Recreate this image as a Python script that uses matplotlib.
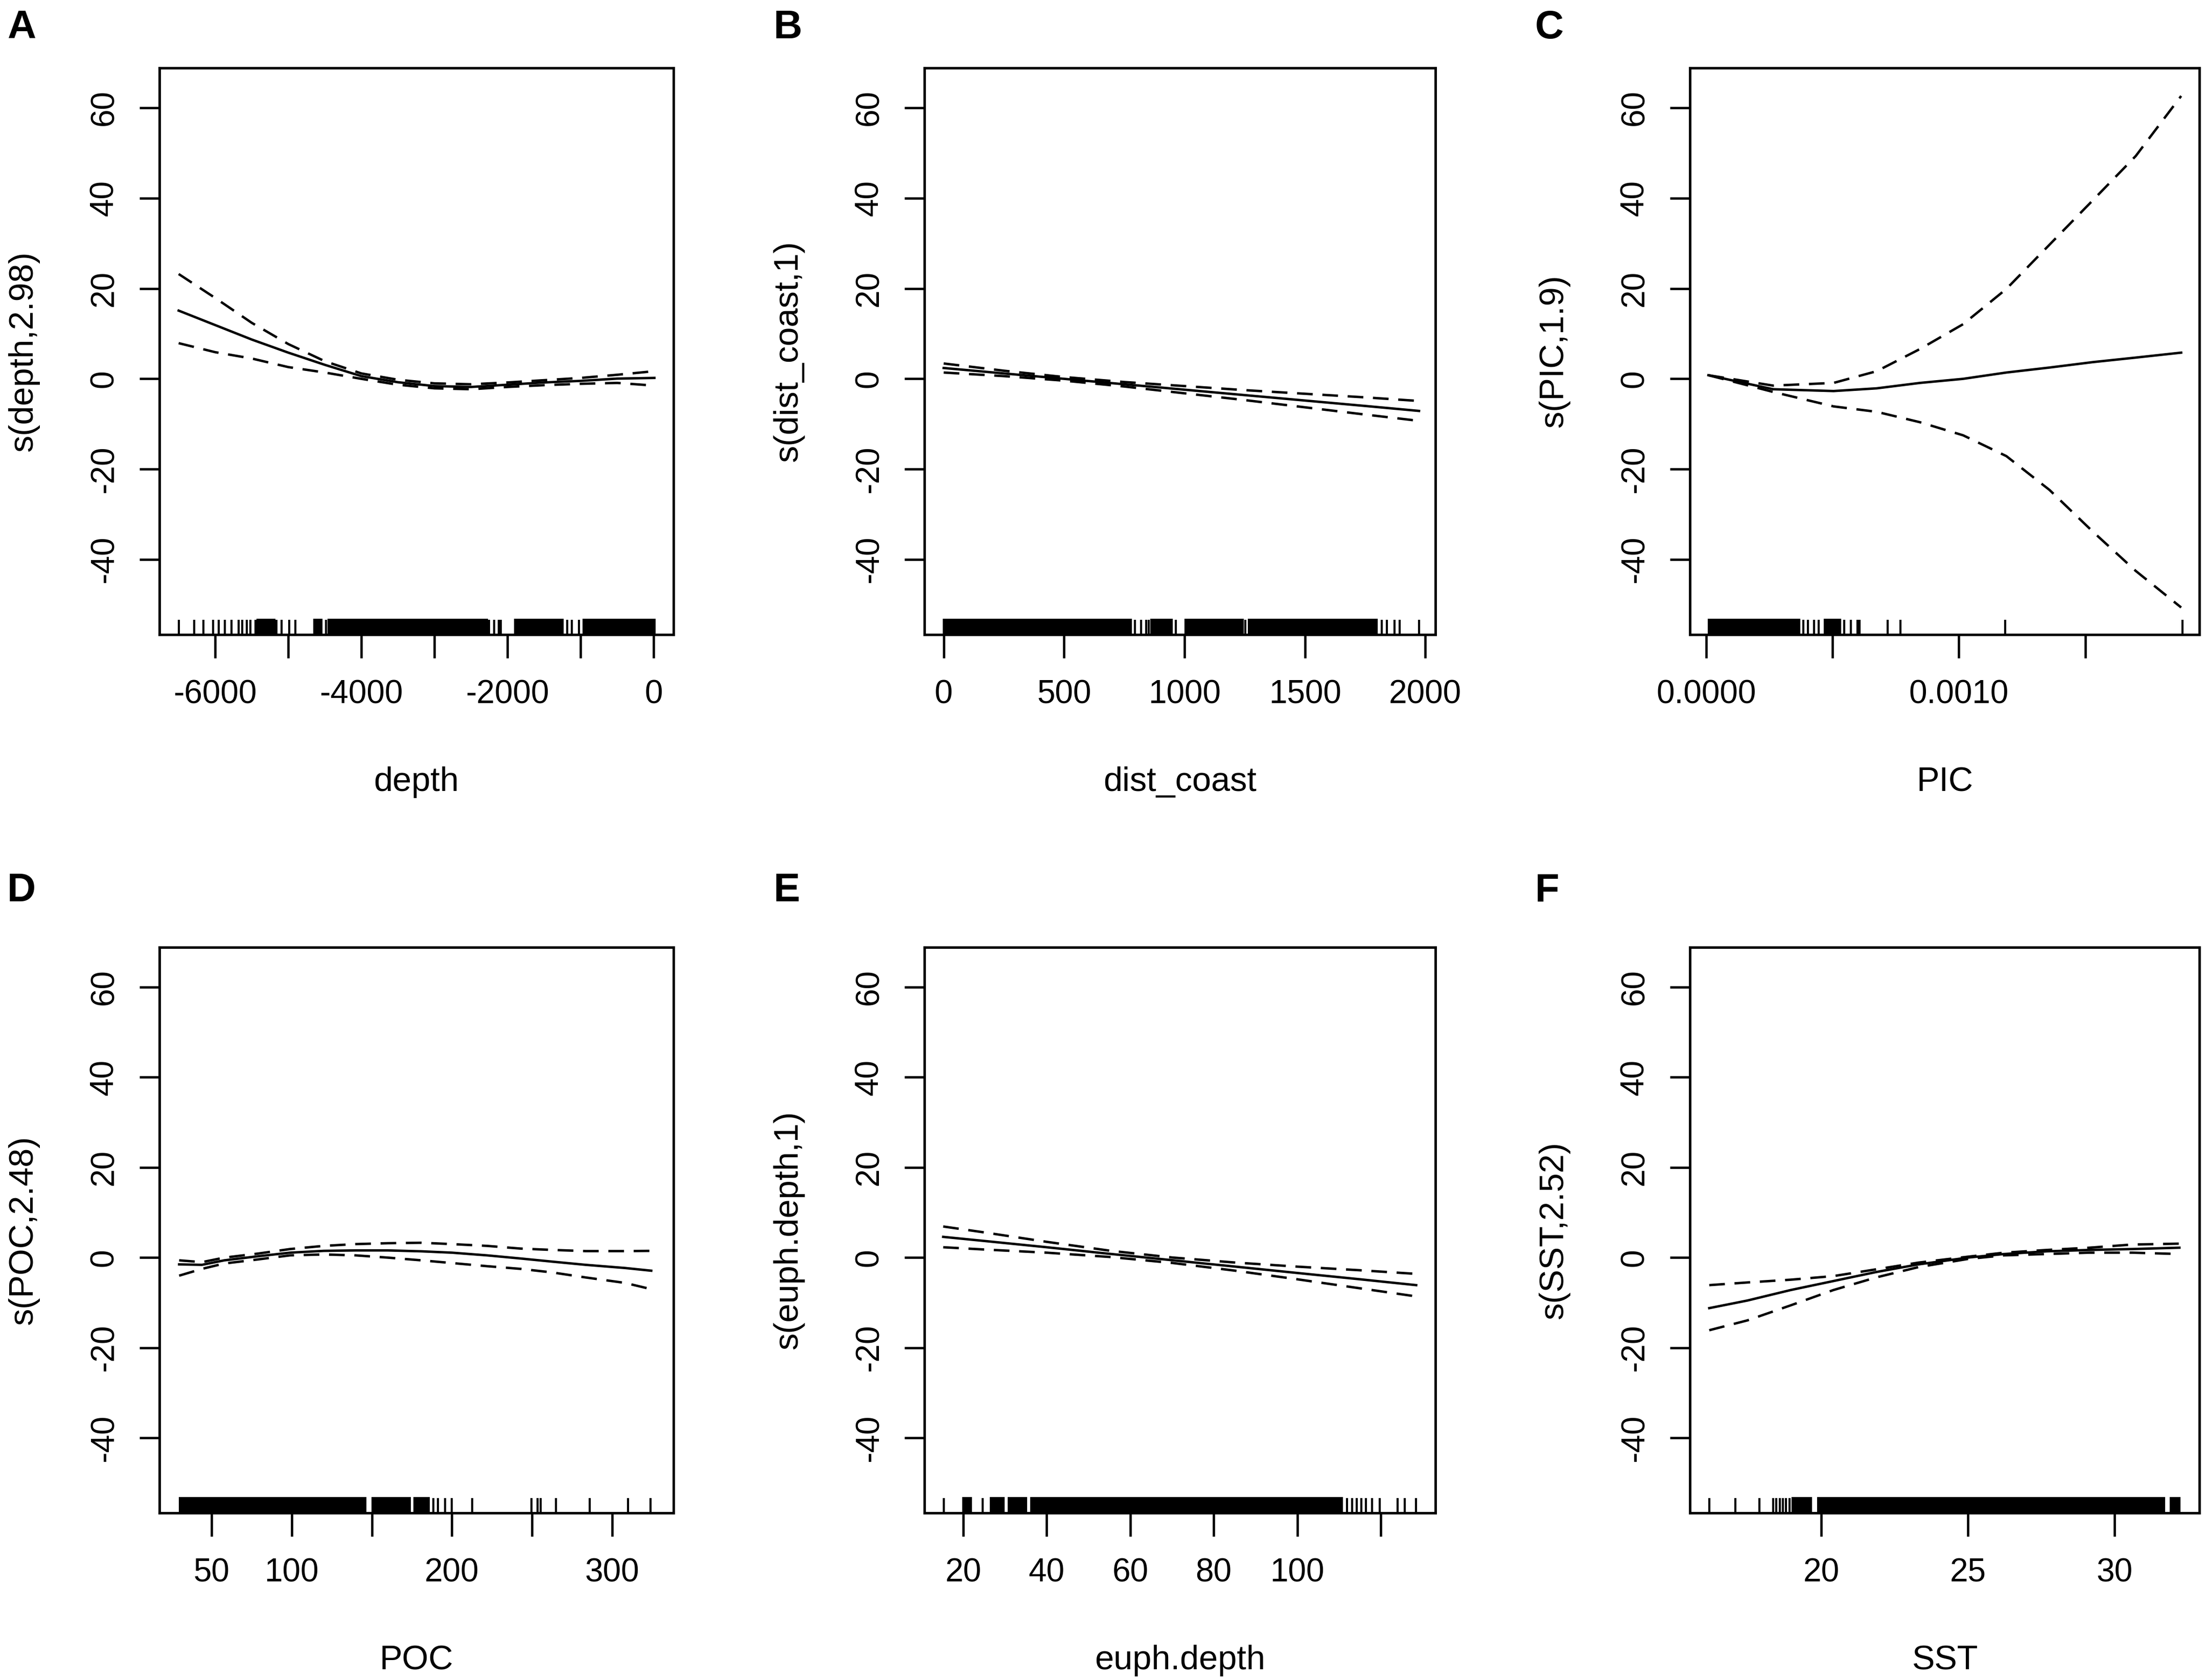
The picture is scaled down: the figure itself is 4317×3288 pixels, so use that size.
import matplotlib
matplotlib.use('Agg')
import matplotlib.pyplot as plt

plt.rcParams['font.family'] = ['Liberation Sans', 'DejaVu Sans']

# ---------------- data ----------------
letters = ['A', 'B', 'C', 'D', 'E', 'F']
xlabels = ['depth', 'dist_coast', 'PIC', 'POC', 'euph.depth', 'SST']
ylabels = ['s(depth,2.98)', 's(dist_coast,1)', 's(PIC,1.9)',
           's(POC,2.48)', 's(euph.depth,1)', 's(SST,2.52)']

y_ticks = [-40, -20, 0, 20, 40, 60]

# A: depth
depth_x = [-6500, -6000, -5500, -5000, -4500, -4000, -3500, -3000, -2500, -2000, -1500, -1000, -500, 10]
depth_fit = [15.1, 11.9, 8.7, 5.8, 3.1, 0.6, -0.75, -1.6, -1.8, -1.3, -0.8, -0.45, 0.05, 0.2]
depth_up = [23.2, 17.9, 12.4, 7.7, 3.9, 1.2, -0.2, -1.0, -1.2, -0.8, -0.3, 0.2, 0.9, 1.7]
depth_lo = [7.9, 5.9, 4.5, 2.6, 1.4, 0.0, -1.3, -2.1, -2.3, -1.8, -1.4, -1.1, -0.9, -1.5]
depth_rug = [-6498, -6291, -6162, -6032, -5955, -5871, -5774, -5677, -5632, -5567, -5515, -5450,
             -5160, -5095, -4985, -4901, -4481, -2250, -2186, -2121, -2089, -1184, -1120, -1023]
depth_rug_dense = [(-5418, -5192), (-4643, -4546), (-4449, -2283), (-1895, -1249), (-958, 12)]
depth_xticks = [-6000, -5000, -4000, -3000, -2000, -1000, 0]
depth_xticklabels = ['-6000', '', '-4000', '', '-2000', '', '0']

# B: dist_coast
coast_x = [0, 250, 500, 750, 1000, 1250, 1500, 1750, 1974]
coast_fit = [2.4, 1.2, 0.0, -1.2, -2.4, -3.6, -4.8, -6.0, -7.1]
coast_up = [3.4, 1.8, 0.4, -0.7, -1.6, -2.5, -3.3, -4.1, -4.9]
coast_lo = [1.4, 0.6, -0.4, -1.7, -3.2, -4.7, -6.3, -7.9, -9.3]
coast_rug = [794, 820, 841, 851, 963, 1252, 1820, 1841, 1873, 1894, 1974]
coast_rug_dense = [(0, 777), (862, 946), (1005, 1241), (1268, 1799)]
coast_xticks = [0, 500, 1000, 1500, 2000]
coast_xticklabels = ['0', '500', '1000', '1500', '2000']

# C: PIC
pic_x = [0.0000085, 0.000265, 0.000504, 0.000675, 0.000846, 0.001017, 0.001188,
         0.001359, 0.00153, 0.0017, 0.00188]
pic_fit = [0.8, -2.3, -2.7, -2.1, -0.9, 0.0, 1.4, 2.5, 3.7, 4.7, 5.8]
pic_up = [0.8, -1.5, -0.9, 1.7, 6.6, 12.1, 19.9, 29.7, 39.5, 49.3, 62.6]
pic_lo = [0.8, -2.9, -6.1, -7.3, -9.6, -12.5, -17.1, -24.6, -33.8, -42.5, -50.6]
pic_rug = [0.000385, 0.000402, 0.000427, 0.000444, 0.000547, 0.000573, 0.000598,
           0.000607, 0.000718, 0.000769, 0.001183, 0.001885]
pic_rug_dense = [(0.00001, 0.000368), (0.00047, 0.00053)]
pic_xticks = [0.0, 0.0005, 0.0010, 0.0015]
pic_xticklabels = ['0.0000', '', '0.0010', '']

# D: POC
poc_x = [29.8, 44, 58, 79, 99, 120, 140, 160, 181, 200, 222, 243, 263, 283.5, 308, 324.4]
poc_fit = [-1.5, -1.6, -0.6, 0.3, 1.1, 1.5, 1.6, 1.6, 1.4, 1.1, 0.5, -0.2, -0.9, -1.6, -2.3, -2.9]
poc_up = [-0.6, -1.0, 0.0, 0.9, 1.9, 2.6, 3.0, 3.2, 3.3, 3.0, 2.6, 2.0, 1.7, 1.45, 1.45, 1.5]
poc_lo = [-4.0, -2.5, -1.3, -0.4, 0.5, 0.7, 0.5, 0.0, -0.6, -1.2, -1.9, -2.5, -3.3, -4.4, -5.6, -7.0]
poc_rug = [188.3, 191.3, 195.6, 200, 212.5, 249.6, 253.4, 255.4, 265, 286, 309.9, 323.9]
poc_rug_dense = [(30.3, 146.1), (150.4, 173.8), (176.7, 185.4)]
poc_xticks = [50, 100, 150, 200, 250, 300]
poc_xticklabels = ['50', '100', '', '200', '', '300']

# E: euph.depth
euph_x = [15.2, 25, 40, 55, 70, 85, 100, 115, 128.5]
euph_fit = [4.6, 3.7, 2.3, 0.85, -0.57, -1.98, -3.4, -4.8, -6.1]
euph_up = [6.9, 5.6, 3.5, 1.55, 0.03, -1.08, -2.0, -2.8, -3.6]
euph_lo = [2.3, 1.8, 1.1, 0.15, -1.17, -2.88, -4.8, -6.8, -8.6]
euph_rug = [15.4, 24.6, 111.9, 113.1, 114.3, 115.3, 116.5, 117.9, 119.8, 124.0, 125.8, 128.5]
euph_rug_dense = [(20.0, 21.8), (26.6, 29.7), (30.9, 35.1), (36.3, 110.7)]
euph_xticks = [20, 40, 60, 80, 100, 120]
euph_xticklabels = ['20', '40', '60', '80', '100', '']

# F: SST
sst_x = [16.18, 17.49, 18.95, 20.41, 21.87, 23.32, 25.0, 26.24, 27.70, 29.15, 30.61, 32.22]
sst_fit = [-11.2, -9.5, -7.2, -5.2, -3.2, -1.5, 0.0, 0.8, 1.4, 1.7, 1.9, 2.2]
sst_up = [-6.1, -5.5, -4.9, -4.1, -2.6, -1.1, 0.2, 1.1, 1.7, 2.2, 2.9, 3.1]
sst_lo = [-16.1, -13.9, -10.6, -7.2, -4.4, -2.1, -0.3, 0.5, 0.8, 1.1, 1.1, 0.8]
sst_rug = [16.18, 17.08, 17.89, 18.37, 18.47, 18.59, 18.70, 18.80, 18.92]
sst_rug_dense = [(19.02, 19.65), (19.9, 31.7), (31.92, 32.22)]
sst_xticks = [20, 25, 30]
sst_xticklabels = ['20', '25', '30']

xlims = [(-6763, 271), (-80, 2042), (-0.0000648, 0.001952),
         (17.5, 338.3), (10.7, 133.1), (15.52, 32.9)]
ylim = (-56.6, 68.8)

series = [
    (depth_x, depth_fit, depth_up, depth_lo, depth_rug, depth_rug_dense, depth_xticks, depth_xticklabels),
    (coast_x, coast_fit, coast_up, coast_lo, coast_rug, coast_rug_dense, coast_xticks, coast_xticklabels),
    (pic_x, pic_fit, pic_up, pic_lo, pic_rug, pic_rug_dense, pic_xticks, pic_xticklabels),
    (poc_x, poc_fit, poc_up, poc_lo, poc_rug, poc_rug_dense, poc_xticks, poc_xticklabels),
    (euph_x, euph_fit, euph_up, euph_lo, euph_rug, euph_rug_dense, euph_xticks, euph_xticklabels),
    (sst_x, sst_fit, sst_up, sst_lo, sst_rug, sst_rug_dense, sst_xticks, sst_xticklabels),
]

# ---------------- layout ----------------
W, H = 4317, 3288
fig = plt.figure(figsize=(W / 100, H / 100), dpi=100)

col_left = [312, 1809, 3307]
col_w = [1006, 1000, 997]
row_top = [133, 1854]
row_h = [1109, 1107]
letter_x = [14, 1514, 3004]
letter_y = [18, 1707]

LW = 3.4
TICK_FS = 46
LAB_FS = 48
RUG_H = 0.026

for i, (x, fit, up, lo, rug, rug_dense, xt, xtl) in enumerate(series):
    r, c = divmod(i, 3)
    l, w = col_left[c], col_w[c]
    t, h = row_top[r], row_h[r]
    ax = fig.add_axes([l / W, 1 - (t + h) / H, w / W, h / H])

    ax.plot(x, fit, color='black', lw=LW, solid_joinstyle='round')
    ax.plot(x, up, color='black', lw=LW, dashes=(6.5, 4))
    ax.plot(x, lo, color='black', lw=LW, dashes=(6.5, 4))

    trans = ax.get_xaxis_transform()
    ax.vlines(rug, 0, RUG_H, transform=trans, color='black', lw=3.0)
    for a, b in rug_dense:
        ax.axvspan(a, b, ymin=0, ymax=RUG_H, color='black', lw=3.0)

    ax.set_xlim(*xlims[i])
    ax.set_ylim(*ylim)
    ax.set_xticks(xt)
    ax.set_xticklabels(xtl)
    ax.set_yticks(y_ticks)
    ax.set_yticklabels([str(v) for v in y_ticks], rotation=90, va='center')

    for sp in ax.spines.values():
        sp.set_linewidth(3.5)
        sp.set_color('black')
    ax.tick_params(axis='x', direction='out', length=33, width=3.3, pad=30,
                   labelsize=TICK_FS)
    ax.tick_params(axis='y', direction='out', length=28, width=3.3, pad=28,
                   labelsize=TICK_FS)

    ax.set_xlabel(xlabels[i], fontsize=LAB_FS, va='center')
    ax.xaxis.set_label_coords(0.5, -289 / h)
    ax.set_ylabel(ylabels[i], fontsize=LAB_FS, va='center')
    ax.yaxis.set_label_coords(-266 / w, 0.5)

    fig.text(letter_x[c] / W, 1 - letter_y[r] / H, letters[i], fontsize=56,
             fontweight='bold', ha='left', va='top')

fig.savefig('out.png', dpi=100)
